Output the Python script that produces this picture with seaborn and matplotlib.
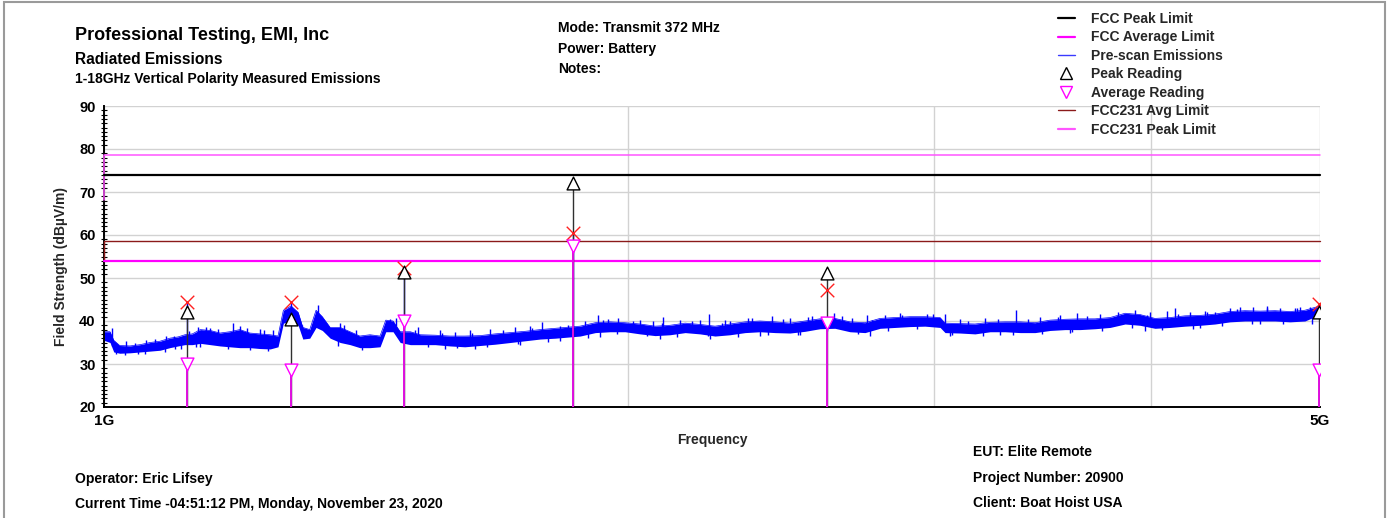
import matplotlib
matplotlib.use("Agg")
import matplotlib.lines as mlines
import matplotlib.pyplot as plt
import numpy as np
import seaborn as sns
from matplotlib.patches import Rectangle
from matplotlib.ticker import MultipleLocator, NullLocator

W, H = 1390, 518

TRACE_MHZ = [1000, 1008, 1013, 1021, 1035, 1049, 1063, 1077, 1091, 1103,
             1113, 1124, 1136, 1151, 1166, 1181, 1197, 1213, 1229, 1246,
             1259, 1268, 1281, 1293, 1301, 1313, 1324, 1335, 1349, 1367,
             1385, 1403, 1422, 1441, 1452, 1466, 1480, 1500, 1520, 1550,
             1581, 1612, 1645, 1678, 1712, 1746, 1781, 1817, 1841, 1878,
             1916, 1954, 1993, 2033, 2074, 2115, 2158, 2201, 2245, 2290,
             2336, 2383, 2431, 2479, 2529, 2579, 2631, 2684, 2738, 2793,
             2849, 2906, 2964, 3024, 3044, 3105, 3167, 3231, 3296, 3362,
             3429, 3498, 3568, 3639, 3712, 3787, 3863, 3940, 4019, 4100,
             4182, 4266, 4351, 4438, 4527, 4618, 4711, 4805, 4901, 5000]
TRACE_LO = [35.5, 35.0, 32.8, 32.5, 32.6, 32.8, 33.0, 33.2, 33.8, 34.2,
            34.5, 34.5, 34.8, 34.5, 34.2, 34.0, 33.8, 33.8, 33.6, 33.5,
            34.0, 39.5, 40.0, 39.0, 35.8, 36.0, 38.5, 37.8, 36.0, 35.0,
            34.5, 33.8, 33.8, 34.0, 37.5, 37.5, 35.0, 34.5, 34.5, 34.5,
            34.2, 34.0, 34.3, 34.6, 35.0, 35.4, 35.8, 36.0, 36.2, 36.5,
            37.3, 37.5, 37.5, 37.0, 36.6, 36.8, 37.3, 37.0, 36.5, 36.8,
            37.3, 37.5, 37.3, 37.2, 37.6, 38.2, 38.3, 37.5, 37.3, 38.3,
            38.5, 38.7, 38.8, 38.5, 37.3, 37.2, 37.0, 37.5, 37.5, 37.3,
            37.3, 37.8, 38.0, 38.0, 38.2, 38.5, 39.3, 39.0, 38.3, 38.5,
            38.8, 39.0, 39.3, 39.8, 40.0, 40.0, 40.0, 39.8, 40.0, 41.5]
TRACE_HI = [37.5, 37.5, 35.5, 34.3, 34.2, 34.5, 35.0, 35.3, 36.0, 36.3,
            36.8, 37.0, 38.0, 37.8, 37.2, 37.5, 38.0, 37.2, 37.0, 36.8,
            36.5, 42.5, 43.5, 42.0, 38.5, 38.0, 42.5, 41.0, 38.5, 38.5,
            37.5, 36.5, 36.8, 36.5, 40.2, 40.0, 37.5, 37.5, 36.8, 36.7,
            36.5, 36.5, 36.6, 37.0, 37.3, 37.6, 38.0, 38.3, 38.5, 38.8,
            39.6, 39.8, 39.6, 39.3, 38.8, 39.0, 39.5, 39.2, 38.8, 39.3,
            39.8, 40.0, 39.8, 39.5, 40.0, 40.5, 40.6, 39.8, 39.6, 40.6,
            40.8, 41.0, 41.0, 40.8, 39.5, 39.4, 39.3, 39.7, 39.8, 39.8,
            39.6, 40.2, 40.4, 40.5, 40.5, 40.8, 41.8, 41.5, 40.6, 40.8,
            41.2, 41.3, 41.6, 42.2, 42.4, 42.3, 42.4, 42.2, 42.5, 43.5]

# spikes poking out above the band (tip values)
SPIKE_MHZ = [1011, 1030, 1057, 1085, 1116, 1132, 1143, 1151, 1163, 1186,
             1197, 1208, 1229, 1236, 1251, 1281, 1300, 1328, 1367, 1374,
             1396, 1460, 1472, 1488, 1515, 1560, 1591, 1623, 1667, 1722,
             1757, 1786, 1848, 1860, 1890, 1923, 1949, 1974, 2033, 2069,
             2096, 2143, 2201, 2227, 2275, 2290, 2345, 2421, 2479, 2539,
             2604, 2628, 2691, 2745, 2812, 2869, 2972, 3044, 3105, 3209,
             3344, 3452, 3544, 3626, 3737, 3913, 3993, 4083, 4127, 4210,
             4294, 4351, 4438, 4497, 4575, 4661, 4743, 4837, 4867, 4932]
SPIKE_DB = [38.3, 35.3, 35.6, 36.4, 44.4, 38.5, 38.0, 38.3, 38.2, 39.5,
            38.8, 38.3, 38.1, 38.0, 37.9, 44.4, 39.0, 43.7, 39.5, 39.0,
            38.0, 40.4, 40.6, 52.3, 38.6, 38.0, 37.5, 37.8, 38.2, 38.5,
            38.8, 39.7, 39.0, 60.5, 40.0, 41.4, 40.4, 40.6, 40.3, 40.0,
            40.9, 40.2, 40.3, 41.6, 40.2, 40.0, 40.8, 41.2, 40.8, 41.0,
            41.0, 41.9, 40.8, 41.4, 41.5, 41.8, 41.6, 41.6, 40.4, 40.6,
            42.6, 41.0, 41.3, 41.8, 41.6, 42.6, 42.0, 42.4, 43.0, 42.2,
            42.4, 42.2, 43.0, 43.2, 43.3, 43.5, 43.0, 43.0, 43.2, 43.2]

# dips reaching below the band (tip values)
DIP_MHZ = [1016, 1046, 1098, 1136, 1178, 1213, 1242, 1363, 1407, 1571,
           1634, 1734, 1828, 1928, 2088, 2229, 2383, 2512, 2756, 3064,
           3274, 3591, 3967, 4266, 4618]
DIP_DB = [32.3, 32.3, 33.5, 34.0, 33.6, 33.3, 33.0, 34.3, 33.2, 33.6,
          33.5, 34.5, 35.3, 36.3, 35.8, 35.8, 36.6, 36.8, 36.6, 36.4,
          36.8, 37.2, 37.6, 38.3, 39.2]

# finer hair on both edges of the band (tip values, up and down)
FUZZ_MHZ = [1028, 1042, 1056, 1070, 1084, 1097, 1108, 1119, 1130, 1144,
            1510, 1535, 1565, 1596, 1628, 1661, 1695, 1729, 1763, 1799,
            1829, 1897, 1935, 1973, 2013, 2053, 2094, 2136, 2179, 2223,
            2267, 2313, 2359, 2407, 2455, 2504, 2554, 2605, 2657, 2711,
            2765, 2821, 2877, 2935, 2994, 3074, 3136, 3199, 3263, 3329,
            3395, 3463, 3533, 3603, 3675, 3749, 3825, 3901, 3979, 4059,
            4141, 4224, 4308, 4394, 4482, 4572, 4664, 4758, 4853, 4950]
FUZZ_DB = [32.0, 35.0, 32.4, 35.8, 32.8, 36.6, 33.6, 37.6, 34.0, 38.6,
           37.9, 34.0, 37.3, 33.7, 37.2, 33.9, 37.8, 34.6, 38.3, 35.2,
           38.9, 36.0, 40.3, 37.0, 40.1, 36.4, 39.6, 36.3, 40.0, 36.4,
           39.5, 36.3, 40.6, 36.8, 40.4, 36.7, 41.1, 37.7, 41.2, 36.9,
           40.3, 37.7, 41.5, 38.1, 41.6, 36.7, 40.0, 36.6, 40.4, 36.8,
           40.5, 36.9, 41.0, 37.4, 41.2, 37.6, 42.2, 38.4, 41.3, 37.8,
           41.6, 38.2, 42.0, 38.8, 42.9, 39.3, 43.0, 39.2, 43.0, 39.4]

# final measurements
READING_MHZ = [1116, 1281, 1488, 1860, 2604, 4995]
PEAK_DB = [42.0, 40.5, 51.5, 72.2, 51.1, 42.0]
AVG_DB = [30.0, 28.6, 40.0, 57.4, 39.6, 28.6]
PRESCAN_MAX_DB = [44.4, 44.4, 52.3, 60.5, 47.1, 44.0]

# limit lines
LIMIT_MHZ = [1000, 1000, 5000]
FCC_PEAK = [74.0, 74.0, 74.0]
FCC_AVG = [54.0, 54.0, 54.0]
FCC231_AVG = [54.0, 58.5, 58.5]
FCC231_PEAK = [68.2, 78.5, 78.5]

X_TICKS = [1000, 2000, 3000, 4000, 5000]
X_TICK_LABELS = ["1G", "", "", "", "5G"]
Y_TICKS = [20, 30, 40, 50, 60, 70, 80, 90]

BLUE = "#0000FF"
MAGENTA = "#FF00FF"
PINK = "#FF55FF"
DARKRED = "#8B1A1A"


def px(x, y):
    return x / W, 1 - y / H


def band_mid(freqs):
    # middle of the band at the nearest read-off sample
    f = np.asarray(TRACE_MHZ, dtype=float)
    mid = (np.asarray(TRACE_LO) + np.asarray(TRACE_HI)) / 2
    idx = [int(np.argmin(np.abs(f - q))) for q in freqs]
    return mid[idx]


def main():
    sns.set_theme(style="white")
    plt.rcParams["font.family"] = ["Liberation Sans", "DejaVu Sans"]
    plt.rcParams["font.weight"] = "bold"

    fig = plt.figure(figsize=(W / 100, H / 100), dpi=100)
    ax = fig.add_axes([104 / W, 1 - 407 / H, 1216 / W, 301 / H])
    ax.set_xscale("log")

    # pre-scan noise band and its spikes
    ax.fill_between(TRACE_MHZ, TRACE_LO, TRACE_HI, color=BLUE, lw=0, zorder=2.2)
    sns.lineplot(x=TRACE_MHZ, y=TRACE_HI, estimator=None, sort=False,
                 color=BLUE, linewidth=0.5, ax=ax, zorder=2.3)
    for freqs, tips in [(SPIKE_MHZ, SPIKE_DB), (DIP_MHZ, DIP_DB),
                        (FUZZ_MHZ, FUZZ_DB)]:
        ax.vlines(freqs, band_mid(freqs), tips, colors=BLUE, lw=1.0, zorder=2.3)

    # limits
    for vals, color, lw in [(FCC231_PEAK, PINK, 1.1), (FCC_PEAK, "black", 1.6),
                            (FCC231_AVG, DARKRED, 1.0), (FCC_AVG, MAGENTA, 1.6)]:
        sns.lineplot(x=LIMIT_MHZ, y=vals, estimator=None, sort=False, color=color,
                     linewidth=lw, ax=ax, zorder=3, clip_on=False)

    # measurement stems
    ax.vlines(READING_MHZ, 20, PEAK_DB, colors="#303030", lw=1.0, zorder=3.2)
    ax.vlines(READING_MHZ, 20, AVG_DB, colors="#E010E0", lw=1.4, zorder=3.3)

    ax.scatter(READING_MHZ, PRESCAN_MAX_DB, marker="x", s=95, c="#FF2020",
               linewidths=1.0, zorder=5)
    ax.scatter(READING_MHZ, PEAK_DB, marker="^", s=85, facecolors="white",
               edgecolors="black", linewidths=1.0, zorder=6)
    ax.scatter(READING_MHZ, AVG_DB, marker="v", s=85, facecolors="white",
               edgecolors=MAGENTA, linewidths=1.0, zorder=6)

    ax.set_xlim(1000, 5000)
    ax.set_ylim(20, 90)
    ax.set_xticks(X_TICKS)
    ax.set_xticklabels(X_TICK_LABELS)
    ax.xaxis.set_minor_locator(NullLocator())
    ax.set_yticks(Y_TICKS)
    ax.yaxis.set_minor_locator(MultipleLocator(1))

    ax.grid(True, which="major", color="#D2D2D2", lw=1.0)
    ax.set_axisbelow(True)
    for side in ("top", "right"):
        ax.spines[side].set_visible(False)
    for side in ("left", "bottom"):
        ax.spines[side].set_color("black")
        ax.spines[side].set_linewidth(1.4)

    ax.tick_params(axis="y", which="major", direction="inout", length=8, width=1,
                   labelsize=10.5, pad=2, colors="black")
    ax.tick_params(axis="y", which="minor", direction="inout", length=4, width=0.8,
                   left=True, colors="black")
    ax.tick_params(axis="x", which="major", direction="inout", length=6, width=1,
                   labelsize=11, pad=2, colors="black")

    ax.set_xlabel("Frequency", fontsize=10, fontweight="bold")
    ax.xaxis.set_label_coords(0.5, -(440 - 407) / 301)
    ax.xaxis.label.set_verticalalignment("center")
    ax.set_ylabel("Field Strength (dB\u00b5V/m)", fontsize=10, fontweight="bold")
    ax.yaxis.set_label_coords((61 - 104) / 1216, (407 - 267) / 301)
    ax.yaxis.label.set_verticalalignment("center")

    # header / footer text
    texts = [
        (75, 40, "Professional Testing, EMI, Inc", 13),
        (75, 64, "Radiated Emissions", 11.2),
        (75, 83, "1-18GHz Vertical Polarity Measured Emissions", 10),
        (558, 32, "Mode: Transmit 372 MHz", 10),
        (558, 53, "Power: Battery", 10),
        (558, 73, "Notes:", 10),
        (75, 483, "Operator: Eric Lifsey", 10),
        (75, 508, "Current Time -04:51:12 PM, Monday, November 23, 2020", 10),
        (973, 456, "EUT: Elite Remote", 10),
        (973, 482, "Project Number: 20900", 10),
        (973, 507, "Client: Boat Hoist USA", 10),
    ]
    for x, y, s, size in texts:
        fig.text(*px(x, y), s, fontsize=size, fontweight="bold", va="baseline",
                 ha="left", color="black")

    handles = [
        mlines.Line2D([], [], color="black", lw=1.6, label="FCC Peak Limit"),
        mlines.Line2D([], [], color=MAGENTA, lw=1.6, label="FCC Average Limit"),
        mlines.Line2D([], [], color="#3A3AFF", lw=1.0, label="Pre-scan Emissions"),
        mlines.Line2D([], [], ls="none", marker="^", ms=9, mfc="none", mec="black",
                      label="Peak Reading"),
        mlines.Line2D([], [], ls="none", marker="v", ms=9, mfc="none", mec=MAGENTA,
                      label="Average Reading"),
        mlines.Line2D([], [], color=DARKRED, lw=1.0, label="FCC231 Avg Limit"),
        mlines.Line2D([], [], color=PINK, lw=1.6, label="FCC231 Peak Limit"),
    ]
    leg = fig.legend(handles=handles, loc="upper left", bbox_to_anchor=px(1058, 12),
                     frameon=False, fontsize=10, handlelength=1.2,
                     handletextpad=1.2, labelspacing=0.32, borderpad=0,
                     borderaxespad=0)
    for t in leg.get_texts():
        t.set_fontweight("bold")

    fig.add_artist(Rectangle(px(4, 530), (1385 - 4) / W, 528 / H,
                             transform=fig.transFigure, fill=False,
                             ec="#9A9A9A", lw=1.5))

    fig.savefig("out.png", dpi=100)
    plt.close(fig)


if __name__ == "__main__":
    main()
